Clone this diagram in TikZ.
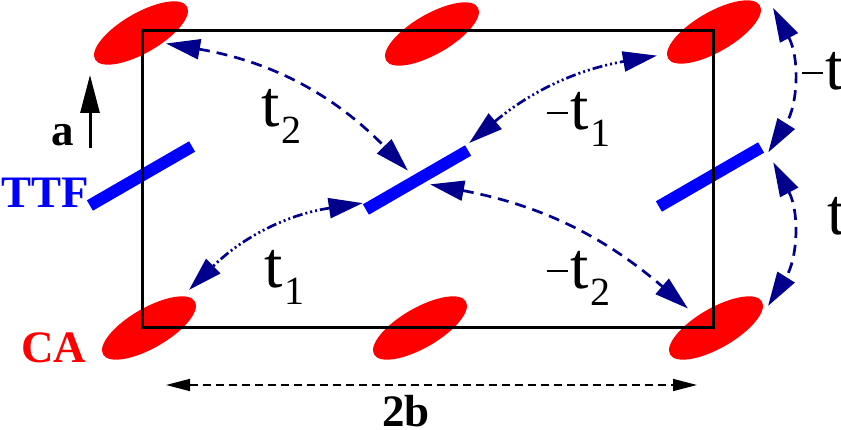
\documentclass[tikz,border=0pt]{standalone}
\usepackage{fontspec}
\setmainfont{Liberation Serif}
\usetikzlibrary{arrows.meta, shapes.geometric, positioning}

\definecolor{hopblue}{RGB}{0,0,140}
\newcommand\tlabel[2]{#1\kern2pt\raisebox{-17pt}{\fontsize{40}{40}\selectfont #2}}
\newcommand\tminus{\raisebox{16pt}{\rule{21pt}{2.4pt}}\kern2pt}

\tikzset{
  ca/.style={ellipse, fill=red, rotate=30, minimum width=106pt, minimum height=40pt, inner sep=0pt},
  ttf/.style={rectangle, fill=blue, rotate=30, minimum width=118pt, minimum height=12pt, inner sep=0pt},
  hop/.style={hopblue, line width=2.7pt, dash pattern=on 11pt off 7pt,
    {Triangle[length=34pt,width=20pt]}-{Triangle[length=34pt,width=20pt]}},
  hopdot/.style={hop, dash pattern=on 10pt off 3pt on 2pt off 3pt on 2pt off 3pt on 2pt off 3pt},
  tlbl/.style={anchor=base west, inner sep=0pt, font=\fontsize{66}{70}\selectfont},
  blbl/.style={anchor=base west, inner sep=0pt, font=\fontsize{45}{50}\selectfont\bfseries}
}

\begin{document}
\begin{tikzpicture}[x=1pt, y=1pt]
\useasboundingbox (0,0) rectangle (841,429);

\foreach \n/\x/\y in {tl/141/396, tm/432/395, tr/714/397, bl/149/101, bm/420/101, br/716/101}
    \node[ca] (ca-\n) at (\x,\y) {};
\foreach \n/\x/\y in {l/141/253, c/417/249, r/710/252}
    \node[ttf] (ttf-\n) at (\x,\y) {};

% unit cell
\draw[line width=3pt] (142,102) rectangle (713,398);

% hoppings
\draw[hop] ([shift={(15,7)}]ca-tl.south) to[bend left=18] ([shift={(-6,4)}]ttf-c.north);
\draw[hopdot] ([shift={(4,2)}]ttf-c.north east) to[bend left=15] ([shift={(-11,3)}]ca-tr.west);
\draw[hopdot] ([shift={(-3,6.5)}]ttf-c.west) to[bend right=18] ([shift={(-6,11.5)}]ca-bl.east);
\draw[hop] ([shift={(10,1)}]ttf-c.south) to[bend left=15] ([shift={(-18,2)}]ca-br.north);
\draw[hop] ([shift={(13,-2.5)}]ca-tr.east) to[bend left=30] ([shift={(7,-5)}]ttf-r.east);
\draw[hop] ([shift={(12,-15)}]ttf-r.east) to[bend left=30] ([shift={(6,-4.5)}]ca-br.east);

\node[tlbl] (t2) at (261,302) {\tlabel{t}{2}};
\node[tlbl] (mt1) at (547,299) {\tlabel{\tminus t}{1}};
\node[tlbl] (t1) at (264,142) {\tlabel{t}{1}};
\node[tlbl] (mt2) at (547,141) {\tlabel{\tminus t}{2}};
\node[tlbl] (mt3) at (802,339) {\tminus t};
\node[tlbl] (t3) at (827,194) {t};

% axes
\coordinate (a-tail) at (90,281);
\coordinate (a-head) at (90,354);
\draw[line width=3pt, -{Triangle[length=38pt,width=19pt]}] (a-tail) -- (a-head);
\coordinate (b-left) at (166,44);
\coordinate (b-right) at (697,44);
\draw[line width=1.5pt, dash pattern=on 8pt off 5pt,
  {Triangle[length=24pt,width=12pt]}-{Triangle[length=24pt,width=12pt]}] (b-left) -- (b-right);

\node[blbl] (lbl-a) at (51,283) {a};
\node[blbl, text=blue] (lbl-ttf) at (1,221) {TTF};
\node[blbl, text=red] (lbl-ca) at (21,67) {CA};
\node[blbl] (lbl-2b) at (382,3) {2b};
\end{tikzpicture}
\end{document}
